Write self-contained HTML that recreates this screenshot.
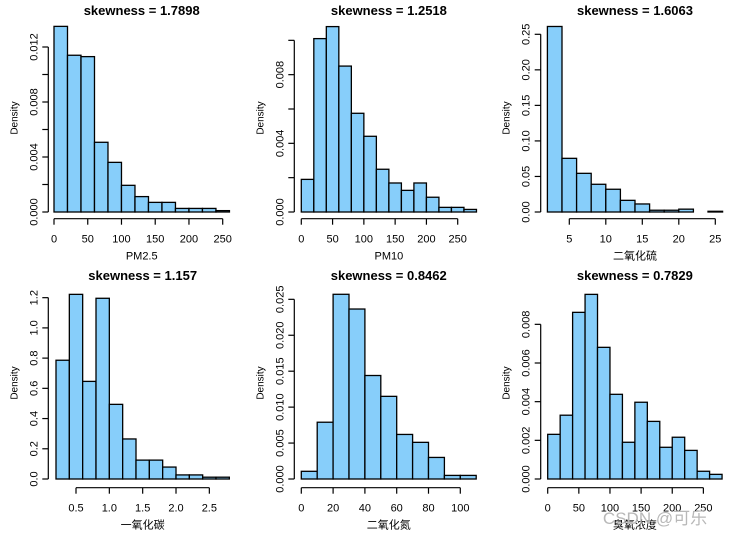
<!DOCTYPE html>
<html><head><meta charset="utf-8">
<style>
html,body{margin:0;padding:0;background:#fff;}
svg{display:block;font-family:"Liberation Sans","Noto Sans CJK SC",sans-serif;}
</style></head>
<body>
<svg id="chart" width="739" height="535" viewBox="0 0 739 535" xmlns="http://www.w3.org/2000/svg">
<text x="655" y="524" font-size="17" fill="#b8b8b8" text-anchor="middle">CSDN @可乐</text>
</svg>
<script>
// ---- data ----
const pm25Breaks = [0,20,40,60,80,100,120,140,160,180,200,220,240,260];
const pm25Values = [0.0135,0.0114,0.0113,0.00507,0.00361,0.00194,0.00112,0.0007,0.0007,0.00026,0.00026,0.00026,0.0001];
const pm25XTicks = [0,50,100,150,200,250];
const pm25YTicks = [0,0.002,0.004,0.006,0.008,0.010,0.012];
const pm25YLabels = ["0.000","","0.004","","0.008","","0.012"];

const pm10Breaks = [0,20,40,60,80,100,120,140,160,180,200,220,240,260,280];
const pm10Values = [0.0019,0.0101,0.0108,0.0085,0.00575,0.00441,0.00249,0.00169,0.00126,0.00169,0.00086,0.00027,0.00027,0.00015];
const pm10XTicks = [0,50,100,150,200,250];
const pm10YTicks = [0,0.002,0.004,0.006,0.008,0.010];
const pm10YLabels = ["0.000","","0.004","","0.008",""];

const so2Breaks = [2,4,6,8,10,12,14,16,18,20,22,24,26];
const so2Values = [0.261,0.0755,0.0544,0.039,0.032,0.0164,0.0113,0.0025,0.0025,0.004,0,0.001];
const so2XTicks = [5,10,15,20,25];
const so2YTicks = [0,0.05,0.10,0.15,0.20,0.25];
const so2YLabels = ["0.00","0.05","0.10","0.15","0.20","0.25"];

const coBreaks = [0.2,0.4,0.6,0.8,1.0,1.2,1.4,1.6,1.8,2.0,2.2,2.4,2.6,2.8];
const coValues = [0.786,1.222,0.646,1.196,0.494,0.265,0.125,0.125,0.079,0.027,0.027,0.012,0.012];
const coXTicks = [0.5,1.0,1.5,2.0,2.5];
const coYTicks = [0,0.2,0.4,0.6,0.8,1.0,1.2];
const coYLabels = ["0.0","0.2","0.4","0.6","0.8","1.0","1.2"];

const no2Breaks = [0,10,20,30,40,50,60,70,80,90,100,110];
const no2Values = [0.00107,0.0079,0.0257,0.02365,0.0144,0.0115,0.0062,0.0051,0.003,0.0005,0.0005];
const no2XTicks = [0,20,40,60,80,100];
const no2YTicks = [0,0.005,0.010,0.015,0.020,0.025];
const no2YLabels = ["0.000","0.005","0.010","0.015","0.020","0.025"];

const o3Breaks = [0,20,40,60,80,100,120,140,160,180,200,220,240,260,280];
const o3Values = [0.00231,0.0033,0.00862,0.00955,0.00681,0.00438,0.0019,0.00397,0.00298,0.00164,0.00216,0.00148,0.0004,0.00024];
const o3XTicks = [0,50,100,150,200,250];
const o3YTicks = [0,0.002,0.004,0.006,0.008];
const o3YLabels = ["0.000","0.002","0.004","0.006","0.008"];

const titles = ["skewness = 1.7898","skewness = 1.2518","skewness = 1.6063","skewness = 1.157","skewness = 0.8462","skewness = 0.7829"];
const xTitles = ["PM2.5","PM10","二氧化硫","一氧化碳","二氧化氮","臭氧浓度"];

// ---- layout (pixel mapping, not data) ----
const panels = [
 {name:"pm25", breaks:pm25Breaks, values:pm25Values, xt:pm25XTicks, yt:pm25YTicks, yl:pm25YLabels, xl:pm25XTicks.map(String), x0:54, xs:0.6748, y0:212, ys:13750, ax:48.3, xa:218.7, top:0},
 {name:"pm10", breaks:pm10Breaks, values:pm10Values, xt:pm10XTicks, yt:pm10YTicks, yl:pm10YLabels, xl:pm10XTicks.map(String), x0:301.3, xs:0.6256, y0:212, ys:17167, ax:294.3, xa:218.7, top:0},
 {name:"so2", breaks:so2Breaks, values:so2Values, xt:so2XTicks, yt:so2YTicks, yl:so2YLabels, xl:so2XTicks.map(String), x0:532.8, xs:7.3, y0:212, ys:710.8, ax:540.7, xa:218.7, top:0},
 {name:"co", breaks:coBreaks, values:coValues, xt:coXTicks, yt:coYTicks, yl:coYLabels, xl:coXTicks.map(v=>v.toFixed(1)), x0:42.7, xs:66.67, y0:479, ys:151.1, ax:48.3, xa:487.7, top:265},
 {name:"no2", breaks:no2Breaks, values:no2Values, xt:no2XTicks, yt:no2YTicks, yl:no2YLabels, xl:no2XTicks.map(String), x0:301.3, xs:1.59, y0:479, ys:7187, ax:294.3, xa:487.7, top:265},
 {name:"o3", breaks:o3Breaks, values:o3Values, xt:o3XTicks, yt:o3YTicks, yl:o3YLabels, xl:o3XTicks.map(String), x0:547.7, xs:0.6227, y0:479, ys:19333, ax:540.7, xa:487.7, top:265}
];

const NS = "http://www.w3.org/2000/svg";
const svg = document.getElementById('chart');
const wm = svg.firstElementChild;
function mk(tag, attrs, parent){
  const e = document.createElementNS(NS, tag);
  for (const k in attrs) e.setAttribute(k, attrs[k]);
  parent.insertBefore(e, parent===svg ? wm : null);
  return e;
}
panels.forEach((p, i) => {
  const g = mk('g', {}, svg);
  
  
  const X = v => p.x0 + (v - p.breaks[0]) * p.xs + (p.name==="so2"||p.name==="co" ? 0 : 0);
  const Xr = v => p.x0 + v * p.xs;
  const Y = v => p.y0 - v * p.ys;
  const xOf = (p.name==="so2") ? (v => 547.4 + (v-2)*p.xs) : (p.name==="co" ? (v => 56 + (v-0.2)*p.xs) : Xr);
  // bars
  p.values.forEach((v, j) => {
    const xa = xOf(p.breaks[j]), xb = xOf(p.breaks[j+1]);
    const r = mk('rect', {x:xa, y:Y(v), width:xb-xa, height:p.y0-Y(v), fill:'#87cefa', stroke:'#000', 'stroke-width':1.3}, g);
    
    
  });
  // y axis
  const yMin = Y(p.yt[0]), yMax = Y(p.yt[p.yt.length-1]);
  const ya = mk('line', {x1:p.ax, x2:p.ax, y1:yMin, y2:yMax, stroke:'#000', 'stroke-width':1.2}, g);
  
  
  p.yt.forEach((t, j) => {
    const yy = Y(t);
    mk('line', {x1:p.ax-6, x2:p.ax, y1:yy, y2:yy, stroke:'#000', 'stroke-width':1.2}, g);
    if (p.yl[j]) {
      const tx = mk('text', {x:0, y:0, 'font-size':11, 'text-anchor':'middle', transform:`translate(${p.ax-11},${yy}) rotate(-90)`}, g);
      tx.textContent = p.yl[j];
      
      
    }
  });
  // x axis
  const xaL = mk('line', {x1:xOf(p.xt[0]), x2:xOf(p.xt[p.xt.length-1]), y1:p.xa, y2:p.xa, stroke:'#000', 'stroke-width':1.2}, g);
  
  
  p.xt.forEach((t, j) => {
    const xx = xOf(t);
    mk('line', {x1:xx, x2:xx, y1:p.xa, y2:p.xa+6, stroke:'#000', 'stroke-width':1.2}, g);
    const tx = mk('text', {x:xx, y:p.xa+24, 'font-size':11, 'text-anchor':'middle'}, g);
    tx.textContent = p.xl[j];
    
    
  });
  // titles
  const cx = (xOf(p.breaks[0]) + xOf(p.breaks[p.breaks.length-1])) / 2;
  const tt = mk('text', {x:cx, y:p.top+15, 'font-size':13, 'font-weight':'bold', 'text-anchor':'middle'}, g);
  tt.textContent = titles[i];
  
  
  const xt = mk('text', {x:cx, y:p.xa+41, 'font-size':11, 'text-anchor':'middle'}, g);
  xt.textContent = xTitles[i];
  
  
  const yt = mk('text', {x:0, y:0, 'font-size':10, 'text-anchor':'middle', transform:`translate(${p.ax-31},${p.top+118}) rotate(-90)`}, g);
  yt.textContent = 'Density';
  
  
});
</script>
</body></html>
